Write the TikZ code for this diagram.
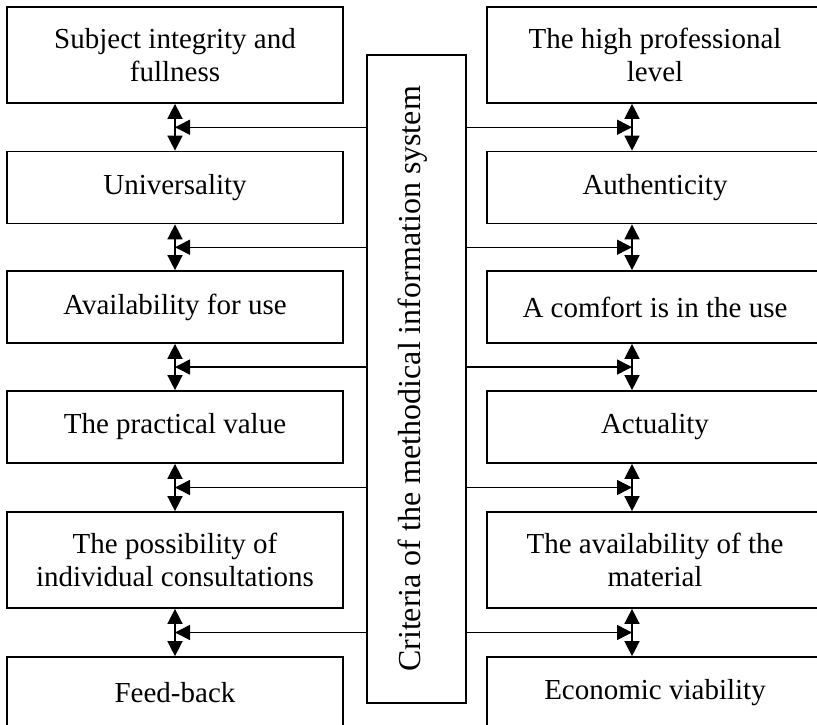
\documentclass[tikz,border=0pt]{standalone}
\usepackage{fontspec}
\setmainfont{Liberation Serif}
\usetikzlibrary{arrows.meta,calc}

\begin{document}
\begin{tikzpicture}[x=1pt, y=-1pt,
    every node/.style={font=\fontsize{29}{33}\selectfont},
    critbox/.style={draw, line width=1.7pt, minimum width=336pt, minimum height=72pt, align=center, inner sep=0pt},
    tallbox/.style={critbox, minimum height=96pt},
    link/.style={line width=1.5pt, -{Triangle[length=15pt, width=15pt]}},
    twoway/.style={line width=1.5pt, {Triangle[length=15pt, width=15pt]}-{Triangle[length=15pt, width=15pt]}}]
  \clip (0,0) rectangle (817,725);
  % Central box with the rotated title
  \node[draw, line width=1.7pt, minimum width=99pt, minimum height=648pt, inner sep=0pt] (crit) at (416.5,379) {};
  \node[rotate=90, font=\fontsize{32}{36}\selectfont] (critlabel) at ($(crit.center)+(-4,0)$) {Criteria of the methodical information system};
  % Left column
  \node[tallbox] (l1) at (175,55) {Subject integrity and\\fullness};
  \node[critbox] (l2) at (175,187.5) {Universality};
  \node[critbox] (l3) at (175,307) {Availability for use};
  \node[critbox] (l4) at (175,427) {The practical value};
  \node[tallbox] (l5) at (175,560) {The possibility of\\individual consultations};
  \node[critbox] (l6) at (175,693) {Feed-back};
  % Right column (runs past the right edge)
  \node[tallbox] (r1) at (655,55) {The high professional\\level};
  \node[critbox] (r2) at (655,187.5) {Authenticity};
  \node[critbox] (r3) at (655,307) {A comfort is in the use};
  \node[critbox] (r4) at (655,427) {Actuality};
  \node[tallbox] (r5) at (655,560) {The availability of the\\material};
  \node[critbox] (r6) at (655,693) {Economic viability};
  % Column of the right-hand links
  \coordinate (rx) at (632,0);
  % Links between neighbours and from the central box
  \foreach \i in {1,...,5} {
    \pgfmathtruncatemacro{\j}{\i+1}
    \draw[twoway] (l\i.south) -- (l\j.north);
    \draw[twoway] (r\i.south -| rx) -- (r\j.north -| rx);
    \coordinate (lm\i) at ($(l\i.south)!0.5!(l\j.north)$);
    \coordinate (rm\i) at ($(r\i.south -| rx)!0.5!(r\j.north -| rx)$);
    \draw[link] (crit.west |- lm\i) -- (lm\i);
    \draw[link] (crit.east |- rm\i) -- (rm\i);
  }
\end{tikzpicture}
\end{document}
